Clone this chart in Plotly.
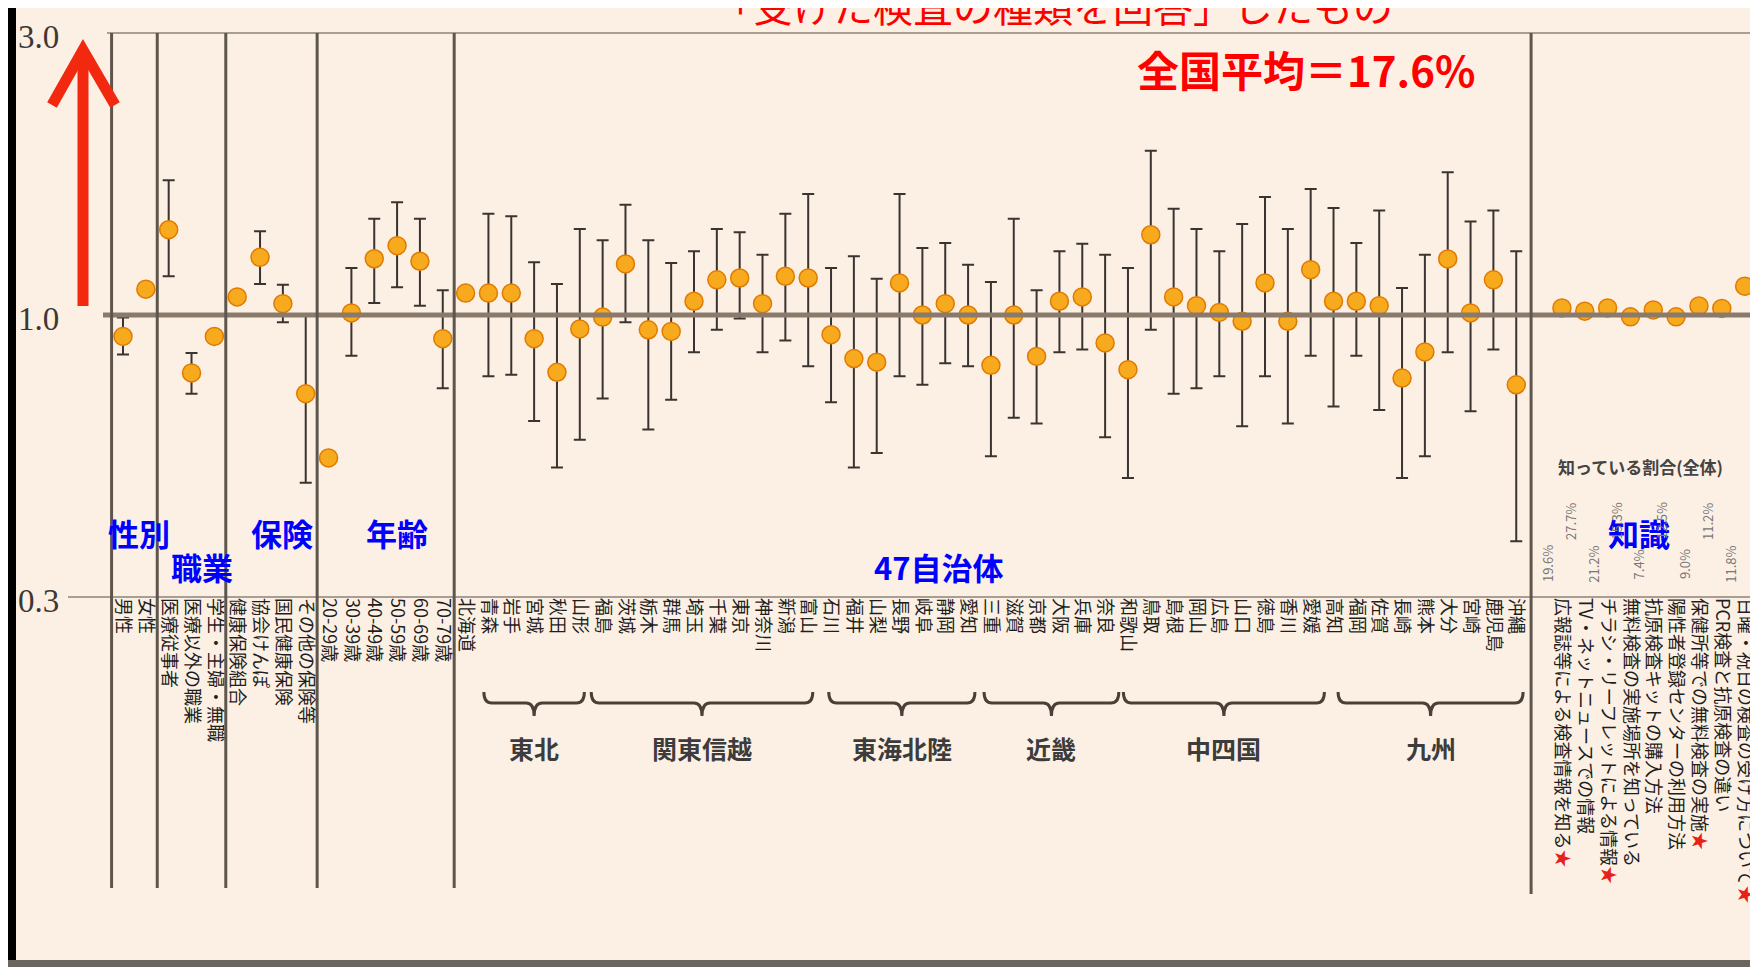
import plotly.graph_objects as go

# ---------------- data ----------------
attr_labels = ["男性", "女性", "医療従事者", "医療以外の職業", "学生・主婦・無職",
               "健康保険組合", "協会けんぽ", "国民健康保険", "その他の保険等",
               "20-29歳", "30-39歳", "40-49歳", "50-59歳", "60-69歳", "70-79歳"]
attr_values = [0.92, 1.106, 1.394, 0.798, 0.92, 1.073, 1.252, 1.045, 0.736,
               0.573, 1.008, 1.245, 1.31, 1.233, 0.912]
attr_lower = [0.857, None, 1.163, 0.736, None, None, 1.128, 0.972, 0.52,
              None, 0.853, 1.048, 1.114, 1.037, 0.752]
attr_upper = [0.99, None, 1.69, 0.862, None, None, 1.386, 1.125, 1.0,
              None, 1.201, 1.455, 1.551, 1.455, 1.101]

pref_labels = ["北海道", "青森", "岩手", "宮城", "秋田", "山形", "福島", "茨城", "栃木", "群馬",
               "埼玉", "千葉", "東京", "神奈川", "新潟", "富山", "石川", "福井", "山梨", "長野",
               "岐阜", "静岡", "愛知", "三重", "滋賀", "京都", "大阪", "兵庫", "奈良", "和歌山",
               "鳥取", "島根", "岡山", "広島", "山口", "徳島", "香川", "愛媛", "高知", "福岡",
               "佐賀", "長崎", "熊本", "大分", "宮崎", "鹿児島", "沖縄"]
pref_values = [1.089, 1.089, 1.089, 0.912, 0.80, 0.947, 0.992, 1.22, 0.944, 0.938,
               1.055, 1.147, 1.155, 1.045, 1.163, 1.155, 0.926, 0.844, 0.832, 1.133,
               1.0, 1.045, 1.0, 0.822, 1.0, 0.851, 1.055, 1.073, 0.897, 0.808,
               1.367, 1.073, 1.037, 1.01, 0.976, 1.133, 0.976, 1.193, 1.055, 1.055,
               1.037, 0.782, 0.866, 1.244, 1.008, 1.147, 0.762]
pref_lower = [None, 0.788, 0.792, 0.662, 0.552, 0.615, 0.722, 0.972, 0.64, 0.719,
              0.865, 0.944, 0.986, 0.865, 0.905, 0.819, 0.712, 0.552, 0.584, 0.788,
              0.762, 0.829, 0.819, 0.577, 0.67, 0.655, 0.865, 0.874, 0.621, 0.53,
              0.944, 0.736, 0.752, 0.788, 0.648, 0.788, 0.655, 0.853, 0.70, 0.853,
              0.691, 0.53, 0.577, 0.865, 0.687, 0.874, 0.414]
pref_upper = [None, 1.484, 1.469, 1.228, 1.128, 1.398, 1.338, 1.537, 1.338, 1.225,
              1.282, 1.398, 1.38, 1.265, 1.484, 1.602, 1.201, 1.257, 1.152, 1.602,
              1.298, 1.324, 1.216, 1.137, 1.455, 1.101, 1.282, 1.32, 1.265, 1.201,
              1.897, 1.513, 1.398, 1.282, 1.426, 1.584, 1.398, 1.634, 1.517, 1.324,
              1.503, 1.111, 1.265, 1.744, 1.44, 1.503, 1.282]

know_labels = ["広報誌等による検査情報を知る★", "TV・ネットニュースでの情報",
               "チラシ・リーフレットによる情報★", "無料検査の実施場所を知っている",
               "抗原検査キットの購入方法", "陽性者登録センターの利用方法",
               "保健所等での無料検査の実施★", "PCR検査と抗原検査の違い",
               "日曜・祝日の検査の受け方について★"]
know_values = [1.028, 1.015, 1.028, 0.993, 1.02, 0.993, 1.036, 1.026, 1.119]
know_percent = ["19.6%", "27.7%", "21.2%", "15.3%", "7.4%", "12.5%", "9.0%", "11.2%", "11.8%"]

group_labels = ["性別", "職業", "保険", "年齢", "47自治体", "知識"]
group_label_pos = [(131, 524), (194, 558), (274, 524), (389, 524), (931, 558), (1631, 524)]
separators = [-0.5, 1.5, 4.5, 8.5, 14.5, 61.65]

region_names = ["東北", "関東信越", "東海北陸", "近畿", "中四国", "九州"]
region_start = [15.8, 20.5, 30.9, 37.7, 43.8, 53.2]
region_end = [20.2, 30.2, 37.3, 43.6, 52.6, 61.3]

y_ticks = [1 / 3, 1.0, 3.0]
y_ticktext = ["0.3", "1.0", "3.0"]

# ---------------- positions ----------------
attr_x = list(range(0, 15))
pref_x = list(range(15, 62))
know_x = list(range(63, 72))

W, H = 1758, 967
L, R, T, B = 95, 1752, 25, 589
Y_LO, Y_HI = -0.47712, 0.47712


def px(x):
    return (x - L) / (R - L)


def py(y):
    return (B - y) / (B - T)


def vy(v):
    import math
    return (math.log10(v) - Y_LO) / (Y_HI - Y_LO)


all_x = attr_x + pref_x + know_x
all_v = attr_values + pref_values + know_values
all_lo = attr_lower + pref_lower + [None] * len(know_x)
all_hi = attr_upper + pref_upper + [None] * len(know_x)

ci_x, ci_v, ci_p, ci_m = [], [], [], []
no_x, no_v = [], []
for x, v, lo, hi in zip(all_x, all_v, all_lo, all_hi):
    if lo is None:
        no_x.append(x)
        no_v.append(v)
    else:
        ci_x.append(x)
        ci_v.append(v)
        ci_p.append(hi - v)
        ci_m.append(v - lo)

marker = dict(size=18, color="#F7AA1E", line=dict(color="#E07A00", width=1.5))

fig = go.Figure()
fig.add_trace(go.Scatter(
    x=ci_x, y=ci_v, mode="markers", marker=marker,
    error_y=dict(type="data", symmetric=False, array=ci_p, arrayminus=ci_m,
                 color="#3a3430", thickness=2, width=6),
    hoverinfo="skip", showlegend=False))
fig.add_trace(go.Scatter(
    x=no_x, y=no_v, mode="markers", marker=marker,
    hoverinfo="skip", showlegend=False))

star = "<span style='color:#E8201A'>★</span>"
tick_text = attr_labels + pref_labels + [t.replace("★", star) for t in know_labels]

shapes = []
# horizontal reference lines
shapes.append(dict(type="line", xref="paper", yref="paper", x0=px(99), x1=1, y0=vy(3.0), y1=vy(3.0),
                   line=dict(color="#A89E94", width=2)))
shapes.append(dict(type="line", xref="paper", yref="paper", x0=0, x1=1, y0=vy(1.0), y1=vy(1.0),
                   line=dict(color="#8A7A6C", width=5)))
shapes.append(dict(type="line", xref="paper", yref="paper", x0=px(60), x1=1, y0=vy(1 / 3), y1=vy(1 / 3),
                   line=dict(color="#A89E94", width=2)))
# vertical separators
for i, s in enumerate(separators):
    yb = 886 if i == len(separators) - 1 else 880
    shapes.append(dict(type="line", xref="x", yref="paper", x0=s, x1=s, y0=1, y1=py(yb),
                       line=dict(color="#5E554C", width=3)))
# region brackets
yt, ym, ytip = py(684), py(695), py(708)
for s, e in zip(region_start, region_end):
    c = (s + e) / 2
    d = 0.35
    path = (f"M {s},{yt} Q {s},{ym} {s + d},{ym} L {c - d},{ym} Q {c},{ym} {c},{ytip} "
            f"Q {c},{ym} {c + d},{ym} L {e - d},{ym} Q {e},{ym} {e},{yt}")
    shapes.append(dict(type="path", xref="x", yref="paper", path=path,
                       line=dict(color="#4A4038", width=3)))
# red arrow
shapes.append(dict(type="line", xref="paper", yref="paper", x0=px(75), x1=px(75),
                   y0=py(298), y1=py(46), line=dict(color="#F2290E", width=11)))
shapes.append(dict(type="path", xref="paper", yref="paper",
                   path=f"M {px(44)},{py(97)} L {px(75)},{py(42)} L {px(107)},{py(97)}",
                   line=dict(color="#F2290E", width=11)))
# border strips
shapes.append(dict(type="rect", xref="paper", yref="paper", x0=px(0), x1=px(8), y0=py(0), y1=py(952),
                   fillcolor="#000000", line=dict(width=0), layer="below"))
shapes.append(dict(type="rect", xref="paper", yref="paper", x0=px(1752), x1=px(1758), y0=py(0), y1=py(967),
                   fillcolor="#000000", line=dict(width=0)))
shapes.append(dict(type="rect", xref="paper", yref="paper", x0=px(0), x1=px(1752), y0=py(952), y1=py(959),
                   fillcolor="#6B6560", line=dict(width=0)))

ann = []
# y tick labels
for v, t in zip(y_ticks, y_ticktext):
    ann.append(dict(x=px(8), y=vy(v), xref="paper", yref="paper", text=t, showarrow=False,
                    xanchor="left", yanchor="middle", yshift=-4,
                    font=dict(family="Liberation Serif", size=33, color="#3E3834")))
# title (cut at top, as in the original)
ann.append(dict(x=px(1045), y=py(-3), xref="paper", yref="paper",
                text="「受けた検査の種類を回答」したもの", showarrow=False,
                xanchor="center", yanchor="middle",
                font=dict(family="Noto Sans CJK JP", size=40, color="#FF0000")))
ann.append(dict(x=px(1298), y=py(61), xref="paper", yref="paper",
                text="<b>全国平均＝17.6%</b>", showarrow=False,
                xanchor="center", yanchor="middle",
                font=dict(family="Noto Sans CJK JP", size=42, color="#FF0000")))
# group labels
for g, (gx, gy) in zip(group_labels, group_label_pos):
    ann.append(dict(x=px(gx), y=py(gy), xref="paper", yref="paper", text=f"<b>{g}</b>",
                    showarrow=False, xanchor="center", yanchor="middle",
                    font=dict(family="Noto Sans CJK JP", size=31, color="#0000FF")))
# region names
for n, s, e in zip(region_names, region_start, region_end):
    ann.append(dict(x=(s + e) / 2, y=py(740), xref="x", yref="paper", text=f"<b>{n}</b>",
                    showarrow=False, xanchor="center", yanchor="middle",
                    font=dict(family="Noto Sans CJK JP", size=25, color="#3C3C3C")))
# knowledge header and percentages
ann.append(dict(x=px(1632), y=py(458), xref="paper", yref="paper", text="<b>知っている割合(全体)</b>",
                showarrow=False, xanchor="center", yanchor="middle",
                font=dict(family="Noto Sans CJK JP", size=17, color="#444444")))
for i, (kx, p) in enumerate(zip(know_x, know_percent)):
    yc = 556 if i % 2 == 0 else 513
    ann.append(dict(x=kx - 0.65, y=py(yc), xref="x", yref="paper", text=p, textangle=-90,
                    showarrow=False, xanchor="center", yanchor="middle",
                    font=dict(family="Noto Sans CJK JP", size=13, color="#777777")))

fig.update_layout(
    width=W, height=H,
    margin=dict(l=L, r=W - R, t=T, b=H - B),
    paper_bgcolor="#FCF0E4", plot_bgcolor="#FCF0E4",
    font=dict(family="Noto Sans CJK JP"),
    xaxis=dict(range=[(L - 115) / 22.84, (R - 115) / 22.84], tickmode="array",
               tickvals=all_x, ticktext=tick_text, tickangle=90, showgrid=False,
               zeroline=False, showline=False, ticks="",
               tickfont=dict(family="Noto Sans CJK JP", size=18, color="#1E1E1E")),
    yaxis=dict(type="log", range=[Y_LO, Y_HI], showgrid=False, zeroline=False,
               showline=False, showticklabels=False, ticks=""),
    shapes=shapes, annotations=ann, showlegend=False,
)

fig.write_html("out.html")
